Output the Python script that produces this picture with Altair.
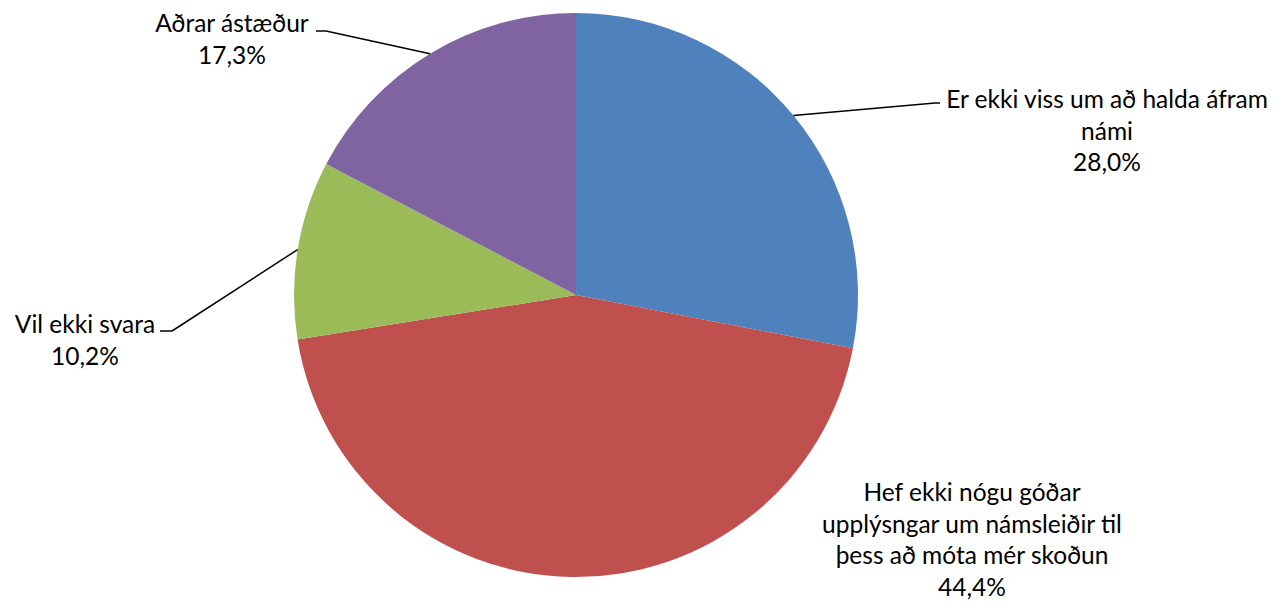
import math
import altair as alt
import pandas as pd

categories = [
    "Er ekki viss um að halda áfram námi",
    "Hef ekki nógu góðar upplýsngar um námsleiðir til þess að móta mér skoðun",
    "Vil ekki svara",
    "Aðrar ástæður",
]
values = [28.0, 44.4, 10.2, 17.3]
label_lines = [
    ["Er ekki viss um að halda áfram", "námi", "28,0%"],
    ["Hef ekki nógu góðar", "upplýsngar um námsleiðir til", "þess að móta mér skoðun", "44,4%"],
    ["Vil ekki svara", "10,2%"],
    ["Aðrar ástæður", "17,3%"],
]
colors = ["#4F81BD", "#C0504D", "#9BBB59", "#8064A2"]

# layout (plot-area pixels)
W, H = 1260, 594
CX, CY, R = 568, 287, 282
LINE_H = 31.5
FONT = "Lato"
FS = 24.5
label_anchor = [(1099, 93), (964, 486), (77, 318), (224, 17)]
leader_elbow = [[(927, 95), (932, 95)], None, [(164, 323), (152, 323)], [(318, 23), (308, 23)]]

pie_df = pd.DataFrame({"cat": categories, "value": values, "order": range(len(values))})

# text rows
rows = []
for i, lines in enumerate(label_lines):
    ax, ay = label_anchor[i]
    for j, t in enumerate(lines):
        rows.append({"t": t, "x": ax, "y": ay + j * LINE_H})
text_df = pd.DataFrame(rows)

# leader segments from slice mid-point on the rim
total = sum(values)
segs = []
cum = 0.0
for i, v in enumerate(values):
    mid = (cum + v / 2) / total * 2 * math.pi
    cum += v
    if leader_elbow[i] is None:
        continue
    px = CX + R * math.sin(mid)
    py = CY - R * math.cos(mid)
    pts = [(px, py)] + leader_elbow[i]
    for a, b in zip(pts[:-1], pts[1:]):
        segs.append({"x": a[0], "y": a[1], "x2": b[0], "y2": b[1]})
seg_df = pd.DataFrame(segs)

pie = alt.Chart(pie_df).mark_arc(stroke=None).encode(
    theta=alt.Theta("value:Q", stack=True),
    order=alt.Order("order:Q"),
    color=alt.Color("cat:N", scale=alt.Scale(domain=categories, range=colors), legend=None),
    x=alt.value(CX),
    y=alt.value(CY),
    radius=alt.value(R),
)

leaders = alt.Chart(seg_df).mark_rule(color="black", strokeWidth=1.5).encode(
    x=alt.X("x:Q", scale=None),
    y=alt.Y("y:Q", scale=None),
    x2="x2:Q",
    y2="y2:Q",
)

texts = alt.Chart(text_df).mark_text(
    font=FONT, fontSize=FS, color="black", align="center", baseline="middle"
).encode(
    x=alt.X("x:Q", scale=None),
    y=alt.Y("y:Q", scale=None),
    text="t:N",
)

chart = (
    alt.layer(pie, leaders, texts)
    .properties(width=W, height=H, padding=0, autosize=alt.AutoSizeParams(type="none"))
    .configure_view(stroke=None)
)

chart.save("out.html", embed_options={"renderer": "svg", "actions": False})
